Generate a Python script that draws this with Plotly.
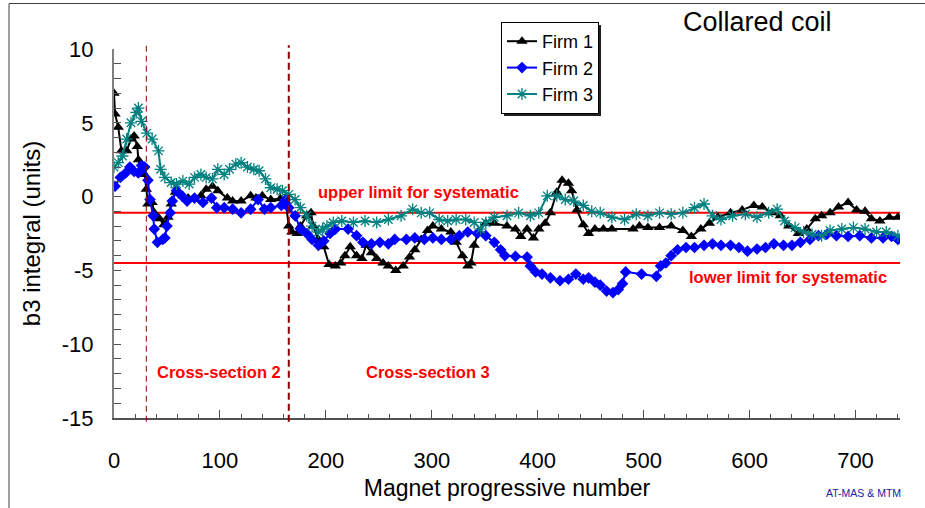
import plotly.graph_objects as go

# ---------------- data ----------------
firm1_x = [0, 1, 4, 7, 12, 16, 19, 22, 23, 26, 29, 30.5, 32, 36, 38, 43, 47, 51, 54, 58, 65, 70, 76, 82, 87, 93, 98,
           107, 112, 120, 129, 134, 140, 148, 157, 162, 165, 168, 173, 176, 182, 186, 188, 193, 198, 203, 209, 214,
           218, 223, 229, 234, 238, 243, 248, 254, 259, 266, 273, 279, 284, 290, 296, 301, 309, 318, 323, 329, 334,
           337, 340, 344, 351, 359, 371, 379, 384, 390, 396, 401, 407, 412, 418, 423, 429, 432, 437, 443, 448, 454,
           462, 470, 490, 496, 504, 515, 526, 537, 545, 554, 562, 570, 582, 593, 604, 612, 621, 629, 637, 646, 654,
           662, 668, 676, 684, 693, 701, 709, 715, 723, 732, 740]
firm1_y = [7.0, 5.6, 4.7, 3.1, 3.1, 3.9, 4.1, 3.4, 2.5, 1.6, 1.5, 0.5, -0.5, -0.4, -1.1, -1.5, -1.9, -1.4, -0.5, 0.3,
           0.05, -0.1, -0.2, 0.05, 0.5, 0.7, 0.4, -0.1, -0.3, -0.3, 0.05, -0.1, 0.05, -0.2, -0.15, -0.3, -2.0, -2.4,
           -2.5, -2.0, -1.3, -1.1, -2.0, -2.9, -3.4, -4.6, -4.7, -4.5, -4.0, -3.4, -4.0, -4.2, -3.3, -3.8, -4.2, -4.5,
           -4.7, -5.0, -4.7, -4.1, -3.6, -2.9, -2.3, -2.0, -2.2, -2.4, -3.1, -4.0, -4.7, -4.5, -3.3, -2.4, -1.8, -1.8,
           -2.0, -2.2, -2.7, -2.2, -2.8, -2.2, -1.8, -1.1, 0.3, 1.1, 0.9, 0.4, -0.9, -1.9, -2.5, -2.2, -2.2, -2.2,
           -2.2, -2.0, -2.1, -2.1, -2.0, -2.3, -2.7, -2.2, -1.8, -1.4, -1.1, -0.9, -0.6, -0.7, -1.1, -1.3, -2.0, -2.5,
           -2.2, -1.5, -1.3, -1.1, -0.7, -0.4, -0.9, -1.0, -1.5, -1.65, -1.4, -1.4]

firm2_x = [1, 6, 11, 15, 19, 23, 26, 29, 32, 34, 37, 38, 41, 46, 48, 50, 53, 55, 59, 64, 69, 76, 84, 92, 97, 104,
           112, 120, 129, 136, 142, 148, 158, 162, 165, 171, 176, 182, 187, 193, 198, 204, 209, 221, 229, 235, 243,
           251, 259, 265, 276, 284, 293, 301, 309, 318, 326, 334, 343, 351, 359, 365, 369, 379, 390, 393, 398, 404,
           412, 421, 429, 436, 443, 448, 454, 459, 465, 471, 476, 480, 483, 498, 512, 516, 521, 526, 532, 540, 548,
           557, 565, 573, 582, 590, 598, 607, 615, 623, 632, 640, 648, 657, 665, 673, 682, 693, 704, 715, 726, 734, 740]
firm2_y = [0.7, 1.3, 1.6, 2.0, 1.7, 1.6, 2.1, 2.0, 1.1, -0.2, -1.3, -2.2, -3.1, -2.9, -2.8, -2.0, -1.1, -0.3, 0.4,
           0.05, -0.3, -0.1, -0.4, -0.1, -0.75, -0.75, -0.85, -1.1, -0.85, -0.2, -0.85, -0.75, -0.6, -0.2, -0.75,
           -1.3, -2.2, -2.5, -2.9, -3.3, -3.0, -2.5, -2.2, -2.2, -2.65, -3.1, -3.2, -3.1, -3.2, -2.9, -2.9, -2.8,
           -2.9, -2.8, -2.9, -2.9, -2.65, -2.4, -2.5, -2.65, -3.1, -3.6, -4.0, -4.05, -4.1, -4.7, -5.1, -5.25, -5.5,
           -5.7, -5.6, -5.25, -5.6, -5.5, -5.8, -6.0, -6.4, -6.5, -6.3, -5.9, -5.1, -5.25, -5.4, -4.7, -4.5, -4.0,
           -3.6, -3.45, -3.45, -3.3, -3.2, -3.3, -3.3, -3.45, -3.7, -3.55, -3.45, -3.2, -3.3, -3.3, -3.1, -2.9, -2.65,
           -2.55, -2.65, -2.7, -2.65, -2.8, -2.8, -2.7, -2.9]

firm3_x = [0, 4, 8, 12, 16, 21, 23, 26, 31, 36, 42, 44, 48, 54, 59, 65, 71, 76, 82, 87, 93, 98, 104, 109, 115, 120,
           126, 132, 137, 143, 148, 154, 159, 165, 171, 176, 182, 187, 193, 197, 201, 207, 215, 226, 237, 248, 259,
           271, 282, 290, 298, 307, 315, 323, 332, 340, 346, 351, 359, 371, 382, 393, 401, 409, 418, 426, 434, 443,
           451, 459, 470, 482, 493, 504, 515, 526, 537, 548, 557, 565, 573, 584, 596, 607, 618, 626, 633, 643, 651,
           659, 668, 676, 687, 698, 709, 720, 729, 740]
firm3_y = [2.0, 2.3, 2.75, 3.9, 5.0, 5.7, 6.0, 5.1, 4.3, 3.9, 3.1, 1.85, 1.3, 0.95, 0.85, 1.05, 0.85, 1.3, 1.5, 1.3,
           1.2, 1.85, 1.5, 1.85, 2.2, 2.3, 2.0, 1.85, 1.75, 1.2, 0.6, 0.5, 0.4, 0.15, -0.2, -0.75, -1.3, -2.0, -2.4,
           -2.2, -2.0, -1.75, -1.65, -1.75, -1.65, -1.75, -1.55, -1.3, -0.85, -1.1, -1.1, -1.55, -1.65, -1.55, -1.55,
           -1.75, -2.2, -1.75, -1.4, -1.3, -1.1, -1.3, -1.1, 0.05, 0.05, -0.2, -0.3, -0.6, -1.0, -1.1, -1.4, -1.55,
           -1.2, -1.3, -1.1, -1.2, -1.1, -0.75, -0.5, -1.3, -1.55, -1.3, -1.2, -1.4, -1.1, -0.85, -1.65, -2.1, -2.4,
           -2.55, -2.65, -2.3, -2.2, -2.1, -2.2, -2.4, -2.4, -2.65]

upper_limit = -1.1
lower_limit = -4.5
section_bounds = [30.5, 165]
x_range = [0, 742]
y_range = [-15, 10]
y_tickvals = [-15, -10, -5, 0, 5, 10]
y_ticktext = ["-15", "-10", "-5", "0", "5", "10"]

FONT = "Liberation Sans, Arial, sans-serif"

# ---------------- figure ----------------
fig = go.Figure()
fig.add_trace(go.Scatter(x=firm1_x, y=firm1_y, name="Firm 1", mode="lines+markers",
                         line=dict(color="black", width=2),
                         marker=dict(symbol="triangle-up", size=10, color="black"),
                         legendgroup="a"))
fig.add_trace(go.Scatter(x=firm2_x, y=firm2_y, name="Firm 2", mode="lines+markers",
                         line=dict(color="#0000FF", width=2),
                         marker=dict(symbol="diamond", size=9, color="#0000FF"),
                         legendgroup="b"))
fig.add_trace(go.Scatter(x=firm3_x, y=firm3_y, name="Firm 3", mode="lines+markers",
                         line=dict(color="#008080", width=2),
                         marker=dict(symbol="asterisk-open", size=10, color="#008080",
                                     line=dict(color="#008080", width=1.3)),
                         legendgroup="c"))

span = x_range[1] - x_range[0]
L, T = 114, 49
W, H = 786, 369


def px2paper_x(p):
    return (p - L) / W


def px2paper_y(p):
    return (T + H - p) / H


shapes = []
for v in (upper_limit, lower_limit):
    shapes.append(dict(type="line", xref="paper", yref="y", x0=0, x1=1, y0=v, y1=v,
                       line=dict(color="#FF0000", width=2), layer="below"))
shapes.append(dict(type="line", xref="paper", yref="paper",
                   x0=(section_bounds[0] - x_range[0]) / span, x1=(section_bounds[0] - x_range[0]) / span,
                   y0=-0.01, y1=1.01, line=dict(color="#8B0000", width=1, dash="6px,4px")))
shapes.append(dict(type="line", xref="paper", yref="paper",
                   x0=(section_bounds[1] - x_range[0]) / span, x1=(section_bounds[1] - x_range[0]) / span,
                   y0=-0.01, y1=1.01, line=dict(color="#8B0000", width=2, dash="7px,4px")))
# legend shadow
shapes.append(dict(type="rect", xref="paper", yref="paper",
                   x0=px2paper_x(504), x1=px2paper_x(601), y0=px2paper_y(116), y1=px2paper_y(25),
                   fillcolor="#202020", line=dict(width=0), layer="below"))
# outer frame
shapes.append(dict(type="line", xref="paper", yref="paper", x0=px2paper_x(9), x1=px2paper_x(925),
                   y0=px2paper_y(3.5), y1=px2paper_y(3.5), line=dict(color="#404040", width=1)))
shapes.append(dict(type="line", xref="paper", yref="paper", x0=px2paper_x(9), x1=px2paper_x(9),
                   y0=px2paper_y(3.5), y1=px2paper_y(508), line=dict(color="#404040", width=1)))

red_font = dict(family=FONT, size=16.5, color="#FF0000")
annotations = [
    dict(text="<b>upper limit for systematic</b>", x=287, y=0.3, xref="x", yref="y",
         xanchor="center", yanchor="middle", showarrow=False, font=red_font),
    dict(text="<b>lower limit for systematic</b>", x=636, y=-5.42, xref="x", yref="y",
         xanchor="center", yanchor="middle", showarrow=False, font=red_font),
    dict(text="<b>Cross-section 2</b>", x=99, y=-11.86, xref="x", yref="y",
         xanchor="center", yanchor="middle", showarrow=False, font=red_font),
    dict(text="<b>Cross-section 3</b>", x=296, y=-11.86, xref="x", yref="y",
         xanchor="center", yanchor="middle", showarrow=False, font=red_font),
    dict(text="Collared coil", x=px2paper_x(757), y=px2paper_y(22), xref="paper", yref="paper",
         xanchor="center", yanchor="middle", showarrow=False,
         font=dict(family=FONT, size=27, color="black")),
    dict(text="AT-MAS &amp; MTM", x=px2paper_x(863), y=px2paper_y(493), xref="paper", yref="paper",
         xanchor="center", yanchor="middle", showarrow=False,
         font=dict(family=FONT, size=10.5, color="#2020A0")),
]

axis_font = dict(family=FONT, size=22, color="black")
fig.update_layout(
    width=925, height=508,
    margin=dict(l=L, r=925 - L - W, t=T, b=508 - T - H),
    paper_bgcolor="white", plot_bgcolor="white",
    font=dict(family=FONT, color="black"),
    shapes=shapes, annotations=annotations,
    showlegend=True,
    legend=dict(x=px2paper_x(501), y=px2paper_y(22), xanchor="left", yanchor="top",
                bgcolor="white", bordercolor="black", borderwidth=1,
                font=dict(family=FONT, size=18, color="black"),
                traceorder="normal", tracegroupgap=0),
    xaxis=dict(range=x_range, showgrid=False, zeroline=False, showline=True, linecolor="#505050", linewidth=1.5,
               tickmode="linear", tick0=0, dtick=100, ticks="inside", ticklen=8, tickcolor="#505050",
               minor=dict(dtick=20, ticks="inside", ticklen=4, tickcolor="#505050", showgrid=False),
               tickfont=axis_font, ticklabelstandoff=22,
               title=dict(text="Magnet progressive number", font=dict(family=FONT, size=23), standoff=8)),
    yaxis=dict(range=y_range, showgrid=False, zeroline=False, showline=True, linecolor="#808080", linewidth=2,
               tickmode="array", tickvals=y_tickvals, ticktext=y_ticktext,
               ticks="inside", ticklen=7, tickcolor="#505050",
               minor=dict(tickmode="linear", tick0=-15, dtick=1, ticks="inside", ticklen=7,
                          tickcolor="#505050", showgrid=False),
               tickfont=axis_font, ticklabelstandoff=14,
               title=dict(text="b3 integral (units)", font=dict(family=FONT, size=24), standoff=14)),
)

fig.write_html("out.html", config={"displayModeBar": False},
               post_script="document.body.style.margin='0';")
